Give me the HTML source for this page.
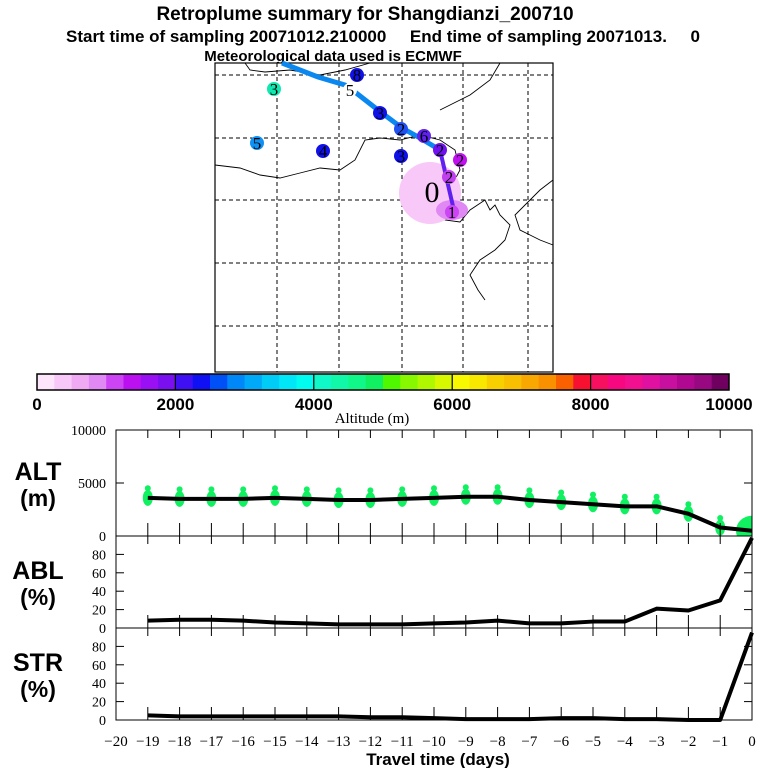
<!DOCTYPE html>
<html><head><meta charset="utf-8"><style>
body{margin:0;background:#fff;}
svg{display:block;font-family:"Liberation Sans",sans-serif;}
</style></head><body>
<svg id="s" width="768" height="768" viewBox="0 0 768 768">
<defs><clipPath id="altclip"><rect x="116" y="430" width="636" height="106"/></clipPath></defs>
<g font-weight="bold" text-anchor="middle">
<text x="365" y="20" font-size="19">Retroplume summary for Shangdianzi_200710</text>
<text x="383" y="42" font-size="17" style="white-space:pre">Start time of sampling 20071012.210000     End time of sampling 20071013.     0</text>
<text x="333" y="61" font-size="15">Meteorological data used is ECMWF</text>
</g>
<g id="map"></g>
<g id="cbar"></g>
<g id="panels"></g>
</svg>
<script>
const NS="http://www.w3.org/2000/svg";
function mk(t,a,p){const e=document.createElementNS(NS,t);for(const k in a)e.setAttribute(k,a[k]);p.appendChild(e);return e;}
const days=[-19,-18,-17,-16,-15,-14,-13,-12,-11,-10,-9,-8,-7,-6,-5,-4,-3,-2,-1,0];
const altValues=[3600,3500,3500,3500,3600,3500,3400,3400,3500,3600,3700,3700,3400,3200,3000,2800,2800,2100,800,500];
const ablValues=[8,9,9,8,6,5,4,4,4,5,6,8,5,5,7,7,21,19,30,98];
const strValues=[5,4,4,4,4,4,4,3,3,2,1,1,1,2,2,1,1,0,0,95];
const xTickLabels=["−20","−19","−18","−17","−16","−15","−14","−13","−12","−11","−10","−9","−8","−7","−6","−5","−4","−3","−2","−1","0"];
const cbarLabels=["0","2000","4000","6000","8000","10000"];
const cbarColors=["#fde6fb","#f8c8f8","#f0aaf4","#e088f4","#cc44f4","#bb10f0","#9a10f4","#7a10f0",
"#4010f4","#1010f4","#0050f8","#0088f8","#00aaf8","#00ccf8","#00e8f8","#00fcf0",
"#10f8c8","#10f8a8","#10f888","#10f060","#50f800","#88f800","#b0f800","#d8f800",
"#f8f800","#f8e800","#f8d000","#f8c000","#f8a800","#f89000","#f86000","#f81030",
"#f81060","#f80880","#f01090","#e010a0","#c810a0","#b00890","#980880","#700060"];
const S=document.getElementById('s');
const M=document.getElementById('map');
mk('rect',{x:215,y:63,width:338,height:309,fill:'#fff',stroke:'#000','stroke-width':1.2},M);
[277,339,402,463,528].forEach(x=>{const l=mk('line',{x1:x,y1:63,x2:x,y2:372,stroke:'#000','stroke-dasharray':'4,3','stroke-width':1},M);});
[75,138,200,263,326].forEach(y=>{const l=mk('line',{x1:215,y1:y,x2:553,y2:y,stroke:'#000','stroke-dasharray':'4,3','stroke-width':1},M);});
const coasts=["M245,63 L250,70 L265,72 L290,70 L320,75 L345,70 L370,63","M215,165 L240,168 L260,175 L280,178 L300,173 L320,168 L340,170 L355,160 L365,140 L380,138 L400,140 L420,135 L440,140 L455,150 L460,170 L452,185 L440,200 L435,210 L445,220 L460,222 L470,210 L485,200 L490,210 L495,205 L500,215 L510,225 L505,240 L495,250 L480,260 L470,275 L478,290 L485,300","M500,63 L490,80 L470,95 L450,105 L440,110","M553,180 L540,190 L525,205 L515,215 L520,230 L530,235 L540,240 L553,245"];
coasts.forEach(d=>{const p=mk('path',{d:d,fill:'none',stroke:'#000','stroke-width':0.9},M);});
const circ=mk('circle',{cx:430,cy:193,r:31,fill:'#f8c8f8'},M);
mk('ellipse',{cx:452,cy:210,rx:16,ry:10,fill:'#e088f4'},M);
const tr1=mk('polyline',{points:'282,63 318,77 345,85 355,92 378,110 402,128 420,138 440,150',fill:'none',stroke:'#0a88f0','stroke-width':5},M);
const tr2=mk('polyline',{points:'440,150 455,215',fill:'none',stroke:'#6020f0','stroke-width':4},M);
const markers=[[274,89,'#10e8b0','3'],[257,143,'#1090f0','5'],[323,151,'#1010e8','4'],[357,75,'#1010e8','8'],[350,90,'#fff','5'],[380,113,'#1010e8','3'],[401,129,'#2050f0','2'],[424,136,'#6020f0','6'],[401,156,'#1010e8','3'],[440,150,'#7010f0','2'],[460,160,'#c010f0','2'],[449,177,'#c040f0','2'],[432,192,'#fff','0'],[452,212,'#cc44f4','1']];
markers.forEach(m=>{const g=mk('g',{},M);
mk('circle',{cx:m[0],cy:m[1],r:m[3]==='0'?0:7,fill:m[2]},g);
const t=mk('text',{x:m[0],y:m[1]+(m[3]==='0'?10:6),'font-size':m[3]==='0'?30:17,'text-anchor':'middle','font-family':'Liberation Serif,serif',fill:'#000'},g);t.textContent=m[3];});
const C=document.getElementById('cbar');
const cx0=37,cx1=729,cy=374,ch=16,w=(cx1-cx0)/cbarColors.length;
cbarColors.forEach((c,i)=>{const r=mk('rect',{x:cx0+i*w,y:cy,width:w+0.5,height:ch,fill:c},C);});
mk('rect',{x:cx0,y:cy,width:cx1-cx0,height:ch,fill:'none',stroke:'#000','stroke-width':1.5},C);
cbarLabels.forEach((l,i)=>{const x=cx0+i*(cx1-cx0)/5;if(i>0&&i<5)mk('line',{x1:x,y1:cy,x2:x,y2:cy+ch,stroke:'#000','stroke-width':1.2},C);
const t=mk('text',{x:x,y:410,'font-size':17,'font-weight':'bold','text-anchor':'middle'},C);t.textContent=l;});
const at=mk('text',{x:372,y:423,'font-size':15,'text-anchor':'middle','font-family':'Liberation Serif,serif'},C);at.textContent='Altitude (m)';
const P=document.getElementById('panels');
const L=116,R=752;
const xs=d=>L+(d+20)*(R-L)/20;
function panel(top,bot,vmax,ticks,vals,name,l1,l2,blobs){
 const ys=v=>bot-(v/vmax)*(bot-top);
 const g=mk('g',{},P);
 if(blobs)blobs(g,ys);
 mk('rect',{x:L,y:top,width:R-L,height:bot-top,fill:'none',stroke:'#000','stroke-width':1},g);
 for(let d=-19;d<0;d++){mk('line',{x1:xs(d),y1:top,x2:xs(d),y2:top+8,stroke:'#000'},g);mk('line',{x1:xs(d),y1:bot,x2:xs(d),y2:bot-13,stroke:'#000'},g);}
 ticks.forEach(v=>{mk('line',{x1:L,y1:ys(v),x2:L+8,y2:ys(v),stroke:'#000'},g);mk('line',{x1:R,y1:ys(v),x2:R-8,y2:ys(v),stroke:'#000'},g);
  const t=mk('text',{x:L-10,y:ys(v)+5,'font-size':14,'text-anchor':'end','font-family':'Liberation Serif,serif'},g);t.textContent=v;});
 const pts=days.map((d,i)=>xs(d)+','+ys(vals[i])).join(' ');
 const pl=mk('polyline',{points:pts,fill:'none',stroke:'#000','stroke-width':4,'stroke-linejoin':'round'},g);
 const my=(top+bot)/2;
 const t1=mk('text',{x:38,y:my-3,'font-size':25,'font-weight':'bold','text-anchor':'middle'},g);t1.textContent=l1;
 const t2=mk('text',{x:38,y:my+23,'font-size':23,'font-weight':'bold','text-anchor':'middle'},g);t2.textContent=l2;
}
panel(430,536,10000,[0,5000,10000],altValues,'alt','ALT','(m)',(g,ys)=>{
 const cg=mk('g',{'clip-path':'url(#altclip)'},g);
 days.forEach((d,i)=>{const v=altValues[i];const big=d===0;
  const e=mk('ellipse',{cx:xs(d),cy:ys(v),rx:big?16:5,ry:big?15:8,fill:'#10f060'},cg);
  const e2=mk('ellipse',{cx:xs(d),cy:ys(v+900),rx:3,ry:3,fill:'#10f060'},cg);});
});
panel(536,628,100,[0,20,40,60,80],ablValues,'abl','ABL','(%)');
panel(628,720,100,[0,20,40,60,80],strValues,'str','STR','(%)');
xTickLabels.forEach((l,i)=>{const t=mk('text',{x:xs(i-20),y:746,'font-size':15,'text-anchor':'middle','font-family':'Liberation Serif,serif'},P);t.textContent=l;});
const xt=mk('text',{x:438,y:765,'font-size':17,'font-weight':'bold','text-anchor':'middle'},P);xt.textContent='Travel time (days)';
</script>
</body></html>
